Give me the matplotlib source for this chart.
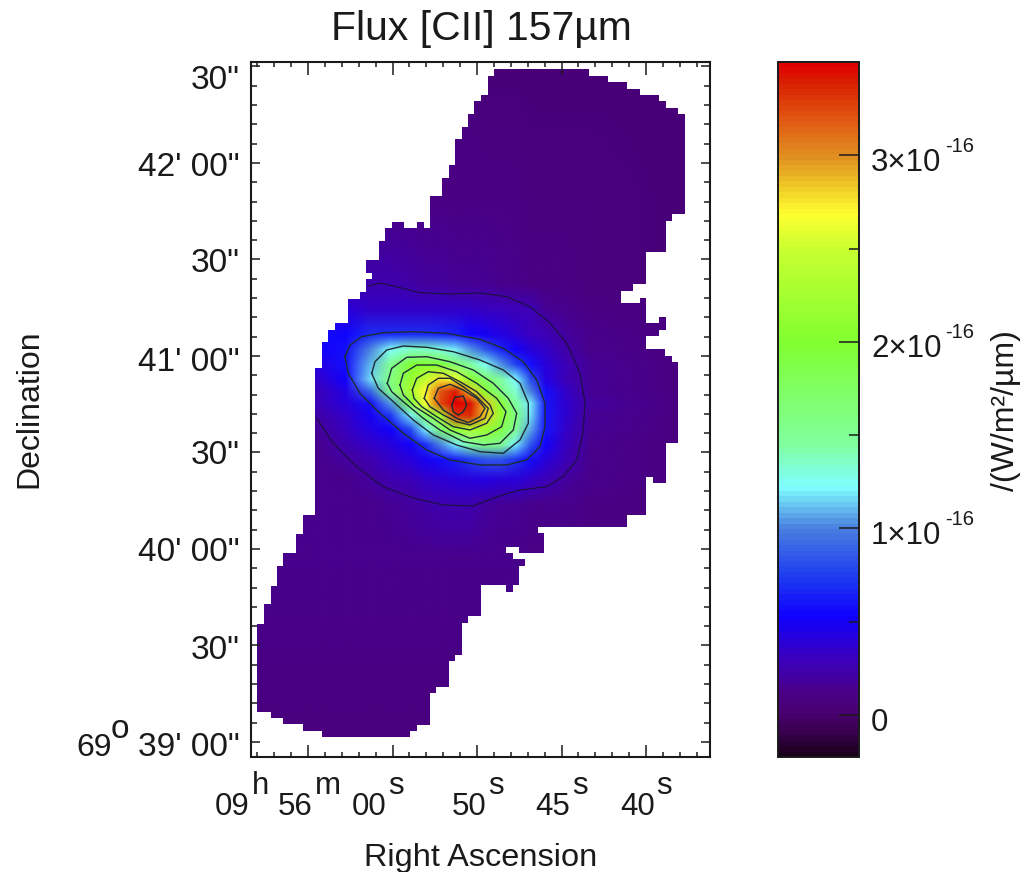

import numpy as np
import matplotlib
matplotlib.use("Agg")
import matplotlib.pyplot as plt
from matplotlib.cm import ScalarMappable
from matplotlib.colors import LinearSegmentedColormap, Normalize
from matplotlib.image import NonUniformImage
from matplotlib.patches import Polygon

plt.rcParams["font.family"] = ["Liberation Sans", "DejaVu Sans"]

WIDTH, HEIGHT = 1023, 872
TEXT = "#1a1a1a"

# map is sampled in image pixels, converted by the wcs helpers below
NODES_X = [250, 316, 345, 370, 390, 410, 425, 440, 455, 470, 485, 500, 515, 530, 545, 565, 590, 690]
NODES_Y = [60, 200, 285, 310, 335, 350, 365, 380, 392, 404, 416, 430, 445, 460, 480, 505, 560, 740]

# flux in 1e-16 W/m2/um, one row per NODES_Y entry
FLUX = [
    [.08, .07, .07, .07, .07, .07, .07, .07, .07, .07, .06, .06, .06, .06, .06, .06, .06, .05],
    [.10, .11, .11, .12, .12, .12, .12, .12, .11, .11, .11, .10, .10, .09, .09, .08, .08, .06],
    [.22, .22, .22, .25, .25, .22, .20, .19, .18, .18, .16, .15, .13, .12, .11, .10, .09, .06],
    [.33, .33, .40, .33, .33, .33, .33, .33, .33, .33, .32, .31, .29, .27, .18, .13, .11, .07],
    [.53, .58, .55, .68, .68, .68, .68, .65, .62, .55, .50, .42, .36, .32, .27, .20, .13, .09],
    [.48, .53, .58, 1.02, 1.25, 1.36, 1.36, 1.30, 1.20, 1.05, .83, .65, .53, .41, .33, .23, .14, .09],
    [.40, .42, .58, 1.09, 1.52, 1.95, 2.02, 1.95, 1.68, 1.46, 1.25, 1.05, .78, .58, .39, .27, .16, .09],
    [.33, .33, .52, 1.17, 1.60, 2.14, 2.46, 2.75, 2.60, 2.05, 1.70, 1.46, 1.22, .80, .43, .29, .16, .09],
    [.27, .29, .43, .90, 1.54, 2.25, 2.70, 3.20, 3.40, 2.85, 2.07, 1.60, 1.33, 1.00, .58, .35, .18, .09],
    [.22, .27, .40, .58, 1.05, 1.89, 2.65, 3.25, 3.48, 3.42, 2.85, 2.05, 1.46, 1.18, .60, .38, .20, .09],
    [.16, .22, .33, .48, .72, 1.20, 1.73, 2.23, 3.30, 3.35, 2.85, 2.14, 1.62, 1.16, .60, .36, .18, .09],
    [.15, .16, .31, .42, .53, .78, 1.18, 1.64, 2.09, 2.32, 2.17, 1.89, 1.52, 1.08, .60, .35, .16, .09],
    [.13, .15, .25, .33, .41, .53, .70, 1.02, 1.18, 1.46, 1.60, 1.55, 1.20, .83, .53, .31, .15, .09],
    [.12, .13, .20, .25, .33, .41, .48, .58, .63, .75, .83, .83, .72, .58, .41, .27, .15, .09],
    [.12, .13, .15, .20, .25, .29, .33, .36, .40, .41, .42, .41, .40, .33, .27, .20, .14, .09],
    [.12, .13, .14, .15, .16, .20, .22, .25, .25, .25, .20, .18, .16, .15, .14, .13, .12, .09],
    [.14, .15, .15, .15, .15, .15, .15, .15, .14, .14, .14, .13, .13, .12, .12, .11, .11, .07],
    [.08, .08, .08, .08, .08, .08, .07, .07, .07, .07, .07, .07, .07, .07, .07, .07, .07, .06],
]

# edge of the observed area as a staircase, clockwise from the top left:
# each MASK_Y[k] is the height of the run from MASK_X[k] to MASK_X[k + 1]
MASK_X = [494, 589, 608.3, 627.3, 640, 659, 665.7, 678.3, 685, 671.7, 665.7, 646, 633.3, 620.7, 640, 646, 659.3,
          666, 659.3, 646, 665, 671.7, 678.3, 666, 652.7, 646, 626.7, 537.7, 544.3, 519.3, 505.7, 512.7, 525,
          518.7, 512.7, 505.7, 480.7, 468.3, 461.7, 455, 449, 436, 430, 416.7, 410, 321.7, 302.7, 283.3, 270.7,
          257.3, 264, 270.7, 276.7, 283.3, 296, 302.7, 315, 322.3, 328.3, 335, 347.7, 360, 366, 372.3, 366, 378.7,
          385.3, 391.7, 404, 416.7, 424.3, 430, 442.3, 449, 455.3, 461.7, 468.3, 474.3, 481, 487.7]
MASK_Y = [69.3, 76, 82.3, 88.7, 95, 101.3, 107.7, 114, 214.3, 221, 252.3, 284, 290.7, 303.3, 298.3, 323.3, 316.7,
          330, 336, 349.3, 356, 361.7, 443.3, 482.7, 476.7, 515, 527.3, 533.3, 552.7, 546.7, 553.3, 559.3, 565.7,
          585, 591.7, 585, 616, 622.7, 655, 661, 686.7, 692.7, 725, 731, 737.3, 730.7, 724.3, 718.3, 711.7,
          624, 604.3, 585.7, 566, 553.3, 534.3, 515, 367.7, 341.7, 330, 323.3, 299, 292.3, 279, 272.7, 260, 241,
          228.3, 221.7, 228.3, 221.7, 228.3, 196, 177.7, 165, 139.3, 126.7, 114, 101.3, 95, 76]

# contour lines, outermost first; the outer one runs off the map edge
C1_X = [316.7, 333, 356.7, 383, 413, 443, 473, 497, 520, 546.7, 563, 576.7, 583, 585, 580, 566.7, 550, 530, 506.7, 480, 450, 420, 396.7, 380, 368]
C1_Y = [418.3, 443, 466.7, 486.7, 498, 505, 506, 496.7, 490, 486.7, 476.7, 460, 433, 403, 373, 343, 323, 306.7, 296.7, 293, 294, 292.7, 286.7, 283, 286]
C2_X = [345, 350, 361.7, 383.3, 413.3, 446.7, 480, 503.3, 523.3, 536.7, 545, 545, 540, 526.7, 506.7, 480, 450, 426.7, 403.3, 380, 360, 348.3]
C2_Y = [356.7, 345, 336.7, 332.7, 331.7, 333.3, 339.3, 348.3, 361.7, 380, 403.3, 426.7, 446.7, 460, 465, 465, 460, 450, 433.3, 413.3, 393.3, 373.3]
C3_X = [371.7, 375, 386.7, 403.3, 426.7, 453.3, 480, 503.3, 520, 528.3, 528.3, 520, 503.3, 480, 456.7, 433.3, 413.3, 393.3, 378.3]
C3_Y = [373.3, 361.7, 350, 346, 347.3, 351.7, 360, 370, 383.3, 403.3, 423.3, 440, 453.3, 451.7, 445, 435, 420, 401.7, 388.3]
C4_X = [387.3, 391.7, 406.7, 426.7, 450, 473.3, 493.3, 508.3, 516.7, 513.3, 500, 483.3, 463.3, 440, 423.3, 403.3, 391.7]
C4_Y = [383.3, 368.3, 357.3, 356.7, 361.7, 370, 383.3, 398.3, 413.3, 430, 443.3, 445, 441.7, 430, 418.3, 401.7, 391.7]
C5_X = [400, 403.3, 416.7, 436.7, 456.7, 476.7, 496.7, 506, 501.7, 486.7, 470, 450, 433.3, 415, 403.3]
C5_Y = [385, 373.3, 365, 365, 371.7, 383.3, 398.3, 411.7, 426.7, 435, 438.3, 430, 418.3, 406.7, 395]
C6_X = [412.3, 416.7, 428.3, 443.3, 460, 476.7, 490, 493.3, 486.7, 470, 453.3, 436.7, 421.7, 414]
C6_Y = [390, 378.3, 371.7, 373.3, 381.7, 391.7, 405, 413.3, 423.3, 430, 426.7, 416.7, 406.7, 398.3]
C7_X = [424.3, 428.3, 438.3, 450, 463.3, 476.7, 488.3, 485, 470, 456.7, 443.3, 430]
C7_Y = [398.3, 385, 378.3, 378.3, 386.7, 396.7, 408.3, 418.3, 425, 421.7, 415, 406.7]
C8_X = [434.3, 438.3, 450, 463.3, 476.7, 485, 480, 468.3, 456.7, 443.3]
C8_Y = [398.3, 388.3, 384.3, 390, 398.3, 408.3, 416.7, 422.7, 418.3, 410]
C9_X = [451.7, 455, 463.3, 466.7, 463.3, 458.3, 453.3]
C9_Y = [405, 397.3, 396, 405, 411.7, 415, 411.7]

# colour stops of the bar: value, colour
CMAP_VALUES = [-0.225, -0.1, 0.0, 0.1, 0.3, 0.52, 0.75, 1.0, 1.22, 1.45, 1.6, 2.0, 2.5, 2.69, 3.0, 3.23, 3.4, 3.5]
CMAP_COLORS = ["#1a001a", "#3a0050", "#480070", "#4a0085", "#3a00c0", "#1000ff", "#2040f0", "#4a80e0", "#80ffff",
               "#80ffa0", "#80ff80", "#80ff30", "#c8ff30", "#ffff30", "#e09020", "#e05010", "#d82000", "#e00000"]
VMIN, VMAX = -0.225, 3.5

RA_TICKS = [0, 5, 10, 15, 20]
DEC_TICKS = [0, 30, 60, 90, 120, 150, 180, 210]
CBAR_TICKS = [0, 1, 2, 3]
CBAR_MINOR = [0.5, 1.5, 2.5]


def ra_seconds(x):
    """image pixel -> seconds of RA before 09h56m00s"""
    return (np.asarray(x, dtype=float) - 308) / 16.9


def dec_arcsec(y):
    """image pixel -> arcsec north of 69d39'00\""""
    return (742 - np.asarray(y, dtype=float)) / 3.217


def put(fig, x, y, s, size=22.5, ha="left", **kw):
    """Text at image pixel position, y is the baseline."""
    return fig.text(x / WIDTH, 1 - y / HEIGHT, s, fontsize=size, ha=ha, va="baseline", color=TEXT, **kw)


fig = plt.figure(figsize=(WIDTH / 100, HEIGHT / 100), dpi=100)
ax = fig.add_axes([251 / WIDTH, 1 - 757 / HEIGHT, 459 / WIDTH, 695 / HEIGHT])
ax.set_xlim(ra_seconds(251), ra_seconds(710))
ax.set_ylim(dec_arcsec(757), dec_arcsec(62))

stops = [(v - VMIN) / (VMAX - VMIN) for v in CMAP_VALUES]
cmap = LinearSegmentedColormap.from_list("cii", list(zip(stops, CMAP_COLORS)), N=128)
norm = Normalize(VMIN, VMAX)

# rows flipped because dec grows upwards
im = NonUniformImage(ax, interpolation="bilinear", cmap=cmap, norm=norm)
im.set_data(ra_seconds(NODES_X), dec_arcsec(NODES_Y)[::-1], np.array(FLUX)[::-1])
ax.add_image(im)

corners = []
for k, y in enumerate(MASK_Y):
    corners.append((MASK_X[k], y))
    corners.append((MASK_X[(k + 1) % len(MASK_X)], y))
corners = np.array(corners)
outline = Polygon(np.column_stack([ra_seconds(corners[:, 0]), dec_arcsec(corners[:, 1])]), closed=True,
                  facecolor="none", edgecolor="none", transform=ax.transData)
ax.add_patch(outline)
im.set_clip_path(outline)

ax.plot(ra_seconds(C1_X), dec_arcsec(C1_Y), color="#1c1040", lw=0.8)
for xs, ys in [(C2_X, C2_Y), (C3_X, C3_Y), (C4_X, C4_Y), (C5_X, C5_Y),
               (C6_X, C6_Y), (C7_X, C7_Y), (C8_X, C8_Y), (C9_X, C9_Y)]:
    ax.plot(ra_seconds(xs + xs[:1]), dec_arcsec(ys + ys[:1]), color="#1c2c34", lw=1.0)

ax.set_xticks(RA_TICKS)
ax.set_xticks(np.arange(-3, 24), minor=True)
ax.set_yticks(DEC_TICKS)
ax.set_yticks(np.arange(-0, 212, 6), minor=True)
ax.tick_params(which="both", direction="in", top=True, right=True, width=1.1, color=TEXT,
               labelbottom=False, labelleft=False)
ax.tick_params(axis="x", which="major", length=9)
ax.tick_params(axis="x", which="minor", length=3.8)
ax.tick_params(axis="y", which="major", length=6.5)
ax.tick_params(axis="y", which="minor", length=4)
for spine in ax.spines.values():
    spine.set_linewidth(1.5)
    spine.set_color(TEXT)

# colour bar
cax = fig.add_axes([778 / WIDTH, 1 - 757 / HEIGHT, 81 / WIDTH, 695 / HEIGHT])
cb = fig.colorbar(ScalarMappable(norm=norm, cmap=cmap), cax=cax)
cb.set_ticks(CBAR_TICKS)
cb.set_ticks(CBAR_MINOR, minor=True)
cb.outline.set_linewidth(1.4)
cb.outline.set_edgecolor(TEXT)
cax.tick_params(which="major", direction="in", length=14.5, width=1.1, color=TEXT, labelright=False)
cax.tick_params(which="minor", direction="in", length=7, width=1.1, color=TEXT)

# titles
put(fig, 481, 40, "Flux [CII] 157µm", size=29.4, ha="center")
put(fig, 481, 866, "Right Ascension", size=23.4, ha="center")
fig.text(29 / WIDTH, 1 - 409 / HEIGHT, "Declination", fontsize=23, rotation=90, ha="center", va="center", color=TEXT)
fig.text(1006 / WIDTH, 1 - 411 / HEIGHT, "/(W/m²/µm)", fontsize=23, rotation=90, ha="center", va="center", color=TEXT)

# RA labels with raised unit letters; 55s is dropped in the original
for x, s in [(215, "09"), (278, "56"), (352, "00"), (452, "50"), (535.5, "45"), (620, "40")]:
    put(fig, x, 815, s)
for x, s in [(252, "h"), (315, "m"), (388.5, "s"), (488, "s"), (572, "s"), (656, "s")]:
    put(fig, x, 794, s)

# Dec labels
for y, s in [(89, '30"'), (176, '42\' 00"'), (272, '30"'), (371, '41\' 00"'), (464, '30"'),
             (561, '40\' 00"'), (659, '30"'), (756, '39\' 00"')]:
    put(fig, 240, y, s, size=24, ha="right")
put(fig, 76, 756, "69", size=23)
put(fig, 111, 738, "o", size=24)

# colour bar labels
for y, s in [(170.7, "3×10"), (356.7, "2×10"), (544, "1×10")]:
    put(fig, 871, y, s, size=22.5)
    put(fig, 945, y - 19, "-16", size=14.5)
put(fig, 871, 730.7, "0", size=22.5)

fig.savefig("out.png", dpi=100)
